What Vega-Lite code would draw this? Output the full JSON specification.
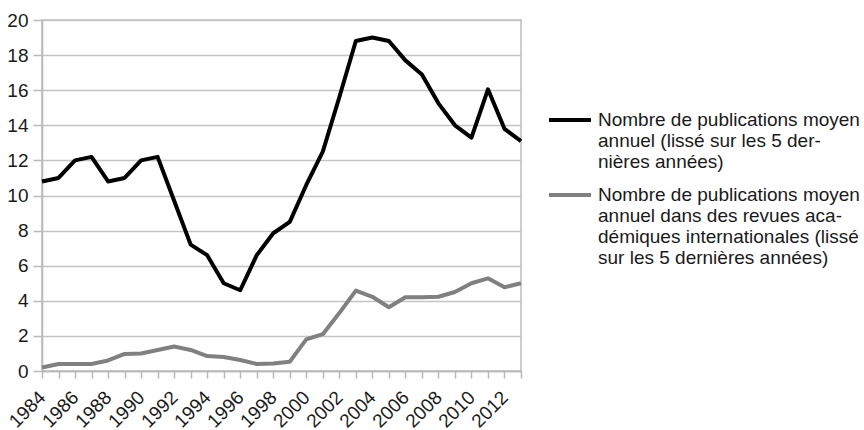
{
  "$schema": "https://vega.github.io/schema/vega-lite/v6.json",
  "width": 479,
  "height": 351,
  "autosize": "none",
  "padding": {"left": 42, "top": 20, "right": 343, "bottom": 59},
  "background": "white",
  "config": {
    "font": "Liberation Sans",
    "view": {"stroke": "#bdbdbd", "strokeWidth": 1.5},
    "axis": {"labelFont": "Liberation Sans", "labelFontSize": 19, "labelColor": "#1a1a1a", "gridColor": "#c4c4c4", "gridWidth": 1.5, "domainColor": "#b8b8b8", "domainWidth": 1.5, "tickColor": "#b8b8b8", "tickWidth": 1.5}
  },
  "data": {
    "values": [
      {"annee": 1984, "serie": "total", "valeur": 10.8},
      {"annee": 1985, "serie": "total", "valeur": 11.0},
      {"annee": 1986, "serie": "total", "valeur": 12.0},
      {"annee": 1987, "serie": "total", "valeur": 12.2},
      {"annee": 1988, "serie": "total", "valeur": 10.8},
      {"annee": 1989, "serie": "total", "valeur": 11.0},
      {"annee": 1990, "serie": "total", "valeur": 12.0},
      {"annee": 1991, "serie": "total", "valeur": 12.2},
      {"annee": 1992, "serie": "total", "valeur": 9.7},
      {"annee": 1993, "serie": "total", "valeur": 7.2},
      {"annee": 1994, "serie": "total", "valeur": 6.6},
      {"annee": 1995, "serie": "total", "valeur": 5.0},
      {"annee": 1996, "serie": "total", "valeur": 4.6},
      {"annee": 1997, "serie": "total", "valeur": 6.6},
      {"annee": 1998, "serie": "total", "valeur": 7.85},
      {"annee": 1999, "serie": "total", "valeur": 8.5},
      {"annee": 2000, "serie": "total", "valeur": 10.6},
      {"annee": 2001, "serie": "total", "valeur": 12.5},
      {"annee": 2002, "serie": "total", "valeur": 15.6},
      {"annee": 2003, "serie": "total", "valeur": 18.8},
      {"annee": 2004, "serie": "total", "valeur": 19.0},
      {"annee": 2005, "serie": "total", "valeur": 18.8},
      {"annee": 2006, "serie": "total", "valeur": 17.7},
      {"annee": 2007, "serie": "total", "valeur": 16.9},
      {"annee": 2008, "serie": "total", "valeur": 15.25},
      {"annee": 2009, "serie": "total", "valeur": 14.0},
      {"annee": 2010, "serie": "total", "valeur": 13.3},
      {"annee": 2011, "serie": "total", "valeur": 16.05},
      {"annee": 2012, "serie": "total", "valeur": 13.8},
      {"annee": 2013, "serie": "total", "valeur": 13.1},
      {"annee": 1984, "serie": "international", "valeur": 0.2},
      {"annee": 1985, "serie": "international", "valeur": 0.4},
      {"annee": 1986, "serie": "international", "valeur": 0.4},
      {"annee": 1987, "serie": "international", "valeur": 0.4},
      {"annee": 1988, "serie": "international", "valeur": 0.6},
      {"annee": 1989, "serie": "international", "valeur": 0.97},
      {"annee": 1990, "serie": "international", "valeur": 1.0},
      {"annee": 1991, "serie": "international", "valeur": 1.2},
      {"annee": 1992, "serie": "international", "valeur": 1.4},
      {"annee": 1993, "serie": "international", "valeur": 1.2},
      {"annee": 1994, "serie": "international", "valeur": 0.85},
      {"annee": 1995, "serie": "international", "valeur": 0.8},
      {"annee": 1996, "serie": "international", "valeur": 0.63},
      {"annee": 1997, "serie": "international", "valeur": 0.4},
      {"annee": 1998, "serie": "international", "valeur": 0.43},
      {"annee": 1999, "serie": "international", "valeur": 0.53},
      {"annee": 2000, "serie": "international", "valeur": 1.8},
      {"annee": 2001, "serie": "international", "valeur": 2.1},
      {"annee": 2002, "serie": "international", "valeur": 3.3},
      {"annee": 2003, "serie": "international", "valeur": 4.58},
      {"annee": 2004, "serie": "international", "valeur": 4.23},
      {"annee": 2005, "serie": "international", "valeur": 3.63},
      {"annee": 2006, "serie": "international", "valeur": 4.2},
      {"annee": 2007, "serie": "international", "valeur": 4.2},
      {"annee": 2008, "serie": "international", "valeur": 4.23},
      {"annee": 2009, "serie": "international", "valeur": 4.5},
      {"annee": 2010, "serie": "international", "valeur": 5.0},
      {"annee": 2011, "serie": "international", "valeur": 5.28},
      {"annee": 2012, "serie": "international", "valeur": 4.77},
      {"annee": 2013, "serie": "international", "valeur": 5.0}
    ]
  },
  "mark": {"type": "line", "strokeWidth": 4, "strokeJoin": "round", "strokeCap": "butt"},
  "encoding": {
    "x": {
      "field": "annee", "type": "quantitative",
      "scale": {"domain": [1984, 2013], "nice": false, "zero": false},
      "axis": {
        "title": null, "grid": false,
        "values": [1984,1985,1986,1987,1988,1989,1990,1991,1992,1993,1994,1995,1996,1997,1998,1999,2000,2001,2002,2003,2004,2005,2006,2007,2008,2009,2010,2011,2012,2013],
        "labelExpr": "datum.value % 2 == 0 ? format(datum.value, 'd') : ''",
        "labelAngle": -45, "labelAlign": "right", "labelBaseline": "middle",
        "tickSize": 7, "labelPadding": 16, "labelOverlap": false, "labelFlush": false
      }
    },
    "y": {
      "field": "valeur", "type": "quantitative",
      "scale": {"domain": [0, 20], "nice": false},
      "axis": {"title": null, "values": [0,2,4,6,8,10,12,14,16,18,20], "tickSize": 9, "labelPadding": 5, "domain": true}
    },
    "color": {
      "field": "serie", "type": "nominal",
      "scale": {"domain": ["total", "international"], "range": ["#000000", "#808080"]},
      "legend": {
        "title": null,
        "orient": "none",
        "legendX": 505,
        "legendY": 77,
        "symbolType": "stroke",
        "symbolSize": 1764,
        "symbolStrokeWidth": 4,
        "labelFont": "Liberation Sans",
        "labelFontSize": 19,
        "labelColor": "#1a1a1a",
        "labelOffset": 5,
        "labelLimit": 400,
        "labelBaseline": "middle",
        "rowPadding": -7,
        "labelExpr": "datum.value == 'total' ? ['Nombre de publications moyen', 'annuel (lissé sur les 5 der-', 'nières années)'] : ['Nombre de publications moyen', 'annuel dans des revues aca-', 'démiques internationales (lissé', 'sur les 5 dernières années)']"
      }
    }
  }
}
